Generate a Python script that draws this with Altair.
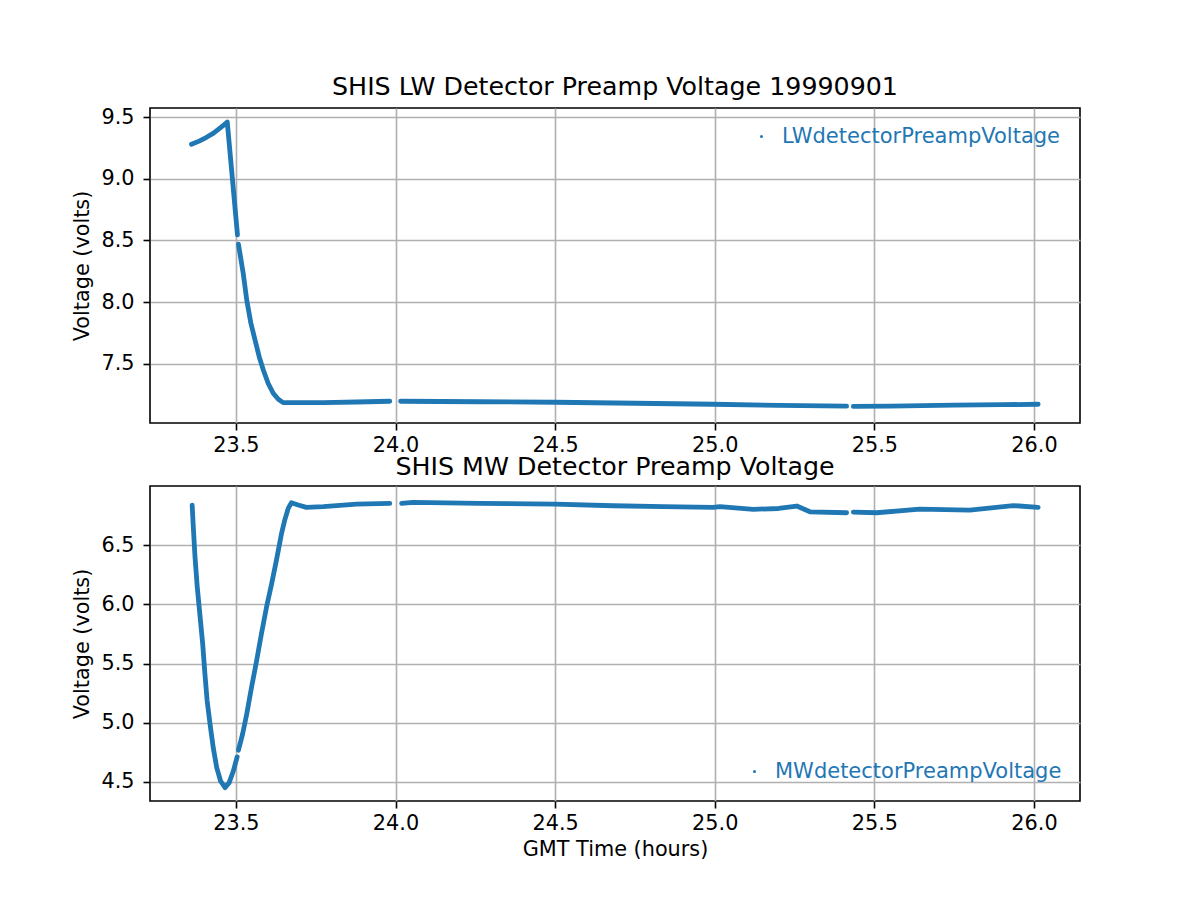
import altair as alt
import pandas as pd

FONT = "DejaVu Sans"
BLUE = "#1f77b4"

# ---------------- data ----------------
lw_name = "LWdetectorPreampVoltage"
lw_time = [23.361, 23.385, 23.408, 23.430, 23.445, 23.462, 23.473, 23.505,
           23.508, 23.523, 23.534, 23.547, 23.560, 23.573, 23.586, 23.601, 23.617, 23.633, 23.648, 23.680, 23.774, 23.878, 23.982,
           24.016, 24.264, 24.500, 24.750, 24.995, 25.200, 25.413,
           25.434, 25.550, 25.750, 25.900, 26.013]
lw_volt = [9.279, 9.305, 9.336, 9.370, 9.400, 9.435, 9.460, 8.545,
           8.470, 8.234, 8.018, 7.830, 7.694, 7.559, 7.451, 7.344, 7.263, 7.214, 7.187, 7.187, 7.187, 7.192, 7.198,
           7.198, 7.194, 7.190, 7.182, 7.174, 7.165, 7.158,
           7.156, 7.158, 7.166, 7.170, 7.174]
lw_seg = [1] * 8 + [2] * 15 + [3] * 7 + [4] * 5

mw_name = "MWdetectorPreampVoltage"
mw_time = [23.363, 23.366, 23.372, 23.379, 23.387, 23.396, 23.403, 23.410, 23.419, 23.429, 23.440, 23.452, 23.466, 23.479, 23.492, 23.504,
           23.508, 23.521, 23.534, 23.549, 23.565, 23.580, 23.596, 23.612, 23.627, 23.643, 23.653, 23.664, 23.674, 23.695, 23.721, 23.774, 23.878, 23.982,
           24.019, 24.055, 24.264, 24.500, 24.682, 24.839, 24.995, 25.016, 25.121, 25.200, 25.257, 25.298, 25.413,
           25.434, 25.507, 25.642, 25.799, 25.935, 26.013]
mw_volt = [6.839, 6.684, 6.400, 6.147, 5.921, 5.667, 5.413, 5.186, 4.989, 4.791, 4.621, 4.508, 4.452, 4.494, 4.592, 4.712,
           4.768, 4.904, 5.074, 5.299, 5.525, 5.751, 5.977, 6.175, 6.373, 6.599, 6.712, 6.811, 6.858, 6.839, 6.819, 6.825, 6.847, 6.853,
           6.853, 6.862, 6.853, 6.847, 6.833, 6.825, 6.819, 6.825, 6.803, 6.810, 6.831, 6.782, 6.774,
           6.780, 6.774, 6.805, 6.797, 6.835, 6.819]
mw_seg = [1] * 16 + [2] * 18 + [3] * 13 + [4] * 6

x_ticks = [23.5, 24.0, 24.5, 25.0, 25.5, 26.0]
lw_ticks = [7.5, 8.0, 8.5, 9.0, 9.5]
mw_ticks = [4.5, 5.0, 5.5, 6.0, 6.5]

x_domain = [23.231, 26.144]
lw_domain = [7.022, 9.573]
mw_domain = [4.339, 7.0]

lw_df = pd.DataFrame({"t": lw_time, "v": lw_volt, "seg": lw_seg, "series": lw_name})
mw_df = pd.DataFrame({"t": mw_time, "v": mw_volt, "seg": mw_seg, "series": mw_name})

W, H = 930, 315


def panel(df, name, title, y_domain, y_ticks, legend_x, legend_y, show_xtitle):
    xaxis = alt.Axis(values=x_ticks, format=".1f", title="GMT Time (hours)" if show_xtitle else None)
    return alt.Chart(df).mark_line(strokeWidth=4.8, strokeCap="round", strokeJoin="round").encode(
        x=alt.X("t:Q", scale=alt.Scale(domain=x_domain, nice=False, zero=False), axis=xaxis),
        y=alt.Y("v:Q", scale=alt.Scale(domain=y_domain, nice=False, zero=False),
                axis=alt.Axis(values=y_ticks, format=".1f", title="Voltage (volts)")),
        color=alt.Color("series:N", scale=alt.Scale(domain=[name], range=[BLUE]),
                        legend=alt.Legend(title=None, orient="none", legendX=legend_x, legendY=legend_y,
                                          symbolType="circle", symbolSize=9, symbolFillColor=BLUE,
                                          symbolStrokeWidth=0, labelFontSize=21, labelFont=FONT,
                                          labelColor=BLUE, labelOffset=10, labelLimit=0, padding=0)),
        detail="seg:N",
    ).properties(
        width=W, height=H,
        title=alt.TitleParams(title, fontSize=25.3, font=FONT, fontWeight="normal", color="black",
                              baseline="alphabetic", offset=-14),
    )


top = panel(lw_df, lw_name, "SHIS LW Detector Preamp Voltage 19990901", lw_domain, lw_ticks, 601, 18, False)
bottom = panel(mw_df, mw_name, "SHIS MW Detector Preamp Voltage", mw_domain, mw_ticks, 594, 275, True)

chart = alt.vconcat(top, bottom, spacing=63, bounds="flush").resolve_scale(
    color="independent").resolve_legend(color="independent").properties(
    padding={"left": 63, "top": 65, "right": 10, "bottom": 10},
    background="white",
).configure_view(
    stroke="black", strokeWidth=1.6
).configure_axis(
    domain=False,
    grid=True, gridColor="#b0b0b0", gridWidth=1.6,
    ticks=True, tickColor="black", tickWidth=1.6, tickSize=7,
    labelFont=FONT, labelFontSize=20.8, labelColor="black", labelPadding=5,
    titleFont=FONT, titleFontSize=20.8, titleFontWeight="normal", titleColor="black", titlePadding=7,
).configure_axisY(labelPadding=9, titlePadding=8)

chart.save("out.html", embed_options={"renderer": "svg", "actions": False})
